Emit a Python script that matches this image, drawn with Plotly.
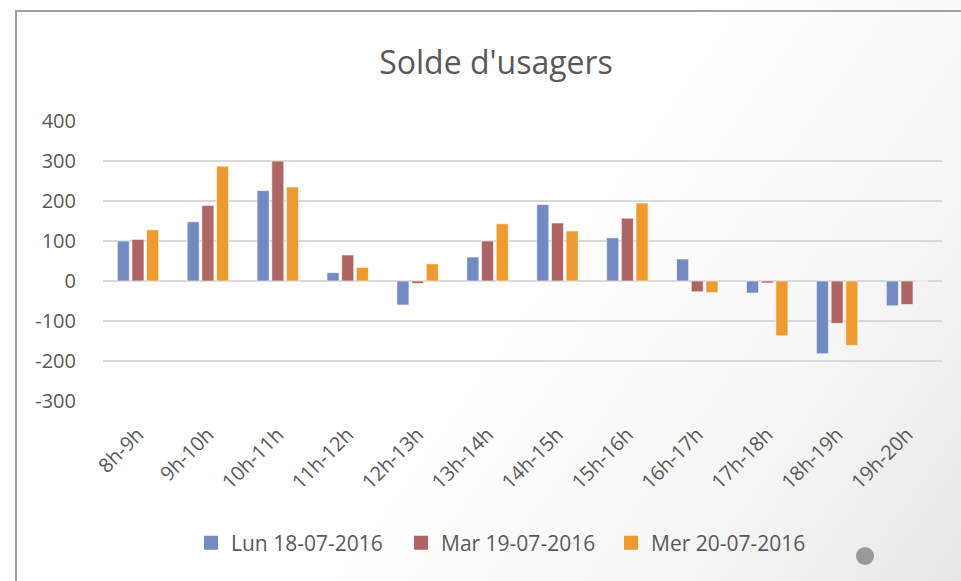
import base64
import plotly.graph_objects as go

categories = ["8h-9h", "9h-10h", "10h-11h", "11h-12h", "12h-13h", "13h-14h",
              "14h-15h", "15h-16h", "16h-17h", "17h-18h", "18h-19h", "19h-20h"]
lun = [100, 148, 226, 21, -60, 60, 191, 108, 55, -30, -182, -62]
mar = [104, 189, 300, 65, -6, 100, 145, 157, -27, -5, -106, -59]
mer = [128, 287, 235, 34, 43, 143, 125, 195, -29, -137, -161, 0]
series_names = ["Lun 18-07-2016", "Mar 19-07-2016", "Mer 20-07-2016"]
colors = ["#728BC3", "#AD6663", "#EE9A2E"]
y_ticks = [400, 300, 200, 100, 0, -100, -200, -300]
y_tick_labels = ["400", "300", "200", "100", "0", "-100", "-200", "-300"]

W, H = 961, 581
L, R, T, B = 103, 19, 121, 180
pw, ph = W - L - R, H - T - B

fig = go.Figure()
for name, vals, col in zip(series_names, [lun, mar, mer], colors):
    fig.add_trace(go.Bar(
        x=categories, y=vals, name=name, showlegend=False, legendgroup=name,
        marker=dict(color=col, line=dict(color="rgba(255,255,255,0.6)", width=1)),
    ))
for name, col in zip(series_names, colors):
    fig.add_trace(go.Scatter(
        x=[None], y=[None], mode="markers", name=name, legendgroup=name,
        marker=dict(symbol="square", size=14, color=col, line=dict(width=0)),
    ))

svg = ('<svg xmlns="http://www.w3.org/2000/svg" width="961" height="581" preserveAspectRatio="none">'
       '<defs><linearGradient id="g" x1="0" y1="0" x2="1.207" y2="0.517">'
       '<stop offset="0" stop-color="#FFFFFF"/><stop offset="0.5" stop-color="#FFFFFF"/>'
       '<stop offset="0.66" stop-color="#FBFBFB"/><stop offset="0.76" stop-color="#F7F7F7"/>'
       '<stop offset="0.84" stop-color="#F2F2F2"/><stop offset="1" stop-color="#E6E6E6"/>'
       '</linearGradient></defs>'
       '<rect width="961" height="581" fill="url(#g)"/></svg>')
src = "data:image/svg+xml;base64," + base64.b64encode(svg.encode()).decode()

def px(x):
    return (x - L) / pw

def py(y):
    return 1 - (y - T) / ph

fig.update_layout(
    width=W, height=H,
    margin=dict(l=L, r=R, t=T, b=B, pad=0, autoexpand=False),
    paper_bgcolor="white", plot_bgcolor="rgba(0,0,0,0)",
    font=dict(family="Open Sans, Liberation Sans, sans-serif", color="#595959", size=20),
    title=dict(text="Solde d'usagers", x=496 / W, xref="container", xanchor="center",
               y=1 - 63 / H, yref="container", yanchor="middle",
               font=dict(size=32, color="#595959")),
    barmode="group", bargap=0.37, bargroupgap=0.18,
    showlegend=True,
    legend=dict(orientation="h", x=px(191), xref="paper", xanchor="left",
                y=py(543), yref="paper", yanchor="middle",
                font=dict(size=21, color="#595959"), bgcolor="rgba(0,0,0,0)",
                itemwidth=30, traceorder="normal", entrywidth=165, entrywidthmode="pixels"),
    xaxis=dict(tickangle=-45, showgrid=False, showline=False, ticks="", automargin=False,
               ticklabelstandoff=17, tickfont=dict(size=20, color="#595959")),
    yaxis=dict(range=[-300, 400], tickvals=y_ticks, ticktext=y_tick_labels,
               showgrid=True, gridcolor="#D9D9D9", automargin=False,
               gridwidth=1.5, zeroline=True, zerolinecolor="#D9D9D9", zerolinewidth=1.5,
               showline=False, ticks="", ticklabelstandoff=26,
               tickfont=dict(size=20, color="#595959")),
    images=[dict(source=src, xref="paper", yref="paper", x=px(0), y=py(0),
                 sizex=W / pw, sizey=H / ph, xanchor="left", yanchor="top",
                 sizing="stretch", layer="below")],
    shapes=[
        dict(type="rect", xref="paper", yref="paper", x0=px(16), y0=py(600), x1=px(990), y1=py(11),
             line=dict(color="#A0A0A0", width=2), fillcolor="rgba(0,0,0,0)", layer="above"),
        dict(type="circle", xref="paper", yref="paper", x0=px(856), x1=px(874), y0=py(565), y1=py(547),
             line=dict(width=0), fillcolor="#999999", layer="above"),
    ],
)

fig.write_html("out.html", config={"displayModeBar": False},
               post_script="document.body.style.margin='0';document.body.style.overflow='hidden';")
